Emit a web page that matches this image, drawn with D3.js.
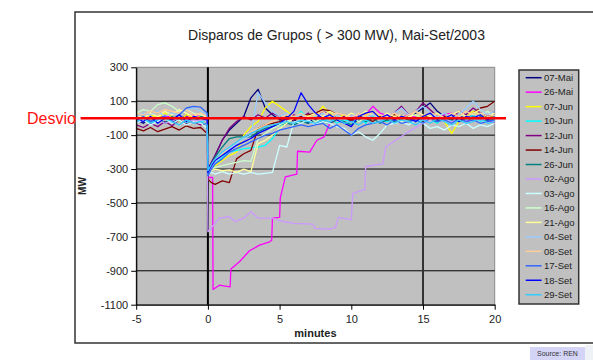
<!DOCTYPE html>
<html>
<head>
<meta charset="utf-8">
<script src="https://cdn.jsdelivr.net/npm/d3@7"></script>
<style>
  body { margin: 0; background: #fff; }
  svg text { font-family: "Liberation Sans", Arial, sans-serif; }
</style>
</head>
<body>
<svg id="chart" width="593" height="360"></svg>
<script>
// minutes grid shared by most series (-5 .. 20)
const minutes = [-5, -4.5, -4, -3.5, -3, -2.5, -2, -1.5, -1, -0.5, -0.05,
  0, 0.25, 0.5, 1, 1.5, 2, 2.5, 3, 3.5, 4, 4.5, 5, 5.5, 6, 6.5, 7, 7.5, 8, 8.5, 9, 9.5,
  10, 10.5, 11, 11.5, 12, 12.5, 13, 13.5, 14, 14.5, 15, 15.5, 16, 16.5, 17, 17.5, 18, 18.5, 19, 19.5, 20]

const mai07 = [-10, -30, 5, -20, 10, -25, -5, 15, -15, 0, -10,
  -300, -260, -220, -130, -70, -30, 10, 120, 170, 60, 20, -10, 10, -20, 20, -30, 10, -10, 20, -10, 10,
  -20, 15, -5, 20, -10, 10, -15, 20, 0, 30, 60, 90, 40, 10, -10, 20, 0, 15, -10, 20, 5]
const jun07 = [10, -10, 20, 0, 30, 10, -20, 20, 0, 10, -10,
  -320, -300, -280, -250, -220, -200, -100, -50, -20, 60, 100, 70, 40, 10, -10, 20, 10, 70, 30, 0, 20,
  -10, 10, 20, 40, 10, -10, 20, 0, 10, 20, 0, 30, 10, -20, -90, -20, 20, 40, 20, 0, 10]
const jun10 = [-20, 0, -30, -10, -25, 0, -15, -30, -5, -20, -10,
  -330, -300, -270, -230, -200, -190, -180, -175, -170, -160, -120, -60, -20, 0, 40, -10, 10, -20, 0, -30, -10,
  -20, 0, -30, 10, -10, -20, 0, -10, 10, -20, 0, -10, -30, 10, -20, 0, -10, 20, -20, 0, -10]
const jun12 = [-40, -55, -30, -50, -20, -45, -10, -35, -20, -40, -30,
  -330, -270, -220, -130, -60, -20, 10, -10, 20, 0, 30, 10, -10, 20, 0, 30, -10, 40, 20, 0, 10,
  -20, 10, 0, 20, -10, 10, 30, 70, 20, 40, 90, 50, 10, 30, 0, 40, 20, 60, 30, 10, 40]
const jun14 = [-60, -75, -55, -80, -65, -50, -70, -45, -60, -55, -90,
  -360, -380, -390, -370, -380, -240, -210, -190, -60, -40, -30, -20, 0, -10, 10, 20, 30, 50, 45, 20, 0,
  -10, 10, 0, -20, 10, -10, 20, 0, 10, -10, 20, 0, -20, 10, 0, 20, 10, 30, 60, 70, 100]
const jun26 = [-10, 10, -20, 0, -30, 10, -10, 0, -20, 10, -5,
  -330, -280, -230, -170, -120, -110, -110, -110, -80, -60, -50, -40, -30, -40, -20, -30, -10, -20, -30, -10, -20,
  -40, -10, -20, 0, -30, -10, -20, 0, -10, -20, 10, -10, -20, 0, -10, -20, 0, -10, 10, -20, 0]
const ago03 = [-30, -10, -40, -20, 0, -30, -10, -40, -20, -30, -60,
  -330, -320, -330, -315, -330, -320, -330, -320, -330, -325, -320, -160, -170, -20, -30, -10, -40, -20, -30, -50, -60,
  -100, -80, -110, -130, -90, -40, -30, -20, -40, -10, -30, -60, -50, -70, -40, -50, -30, -60, -40, -50, -30]
const ago16 = [30, 50, 40, 80, 90, 70, 40, 50, 30, 20, 10,
  -320, -300, -290, -280, -270, -260, -250, -255, -120, -90, -60, -40, -20, 0, -10, 10, -20, 0, 20, -10, 0,
  10, -20, 0, 20, -10, 10, 0, -20, 10, 20, 0, -10, 10, 30, 0, 20, 10, -10, 20, 40, 10]
const ago21 = [20, 0, 30, 10, 40, 20, 50, 30, 10, 30, 0,
  -320, -310, -300, -310, -305, -320, -300, -315, -150, -130, -100, -60, -30, 0, 20, 10, 30, 10, 40, 20, 0,
  30, 10, 40, 20, 0, 30, 10, 20, 0, 40, 20, 10, 30, 0, 20, 40, 10, 30, 50, 20, 30]
const set04 = [10, 30, 20, 40, 10, 30, 20, 50, 60, 40, 20,
  -330, -290, -260, -220, -180, -150, -120, -100, 150, 90, 40, 10, 30, 0, 20, -10, 10, 30, 0, 20, -10,
  10, 30, 0, 20, -10, 10, 30, 60, 20, 40, 70, 30, 10, 30, 0, 20, 60, 100, 50, 20, 40]
const set08 = [30, 20, 40, 30, 50, 40, 30, 50, 20, 30, 10,
  -320, -280, -250, -210, -170, -140, -110, -80, -60, -40, -20, 0, 20, 10, 30, 0, 20, 40, 10, 30, 20,
  0, 30, 10, 40, 20, 10, 30, 0, 20, 40, 10, 30, 20, 0, 30, 10, 40, 20, 30, 10, 20]
const set17 = [-10, 10, -20, 0, 10, -10, 20, 60, 70, 65, 30,
  -340, -300, -270, -240, -200, -180, -160, -140, -120, -100, -90, -70, -60, -50, -40, -50, -40, -30, -60, -40, -70,
  -100, -60, -40, -30, -20, -40, -10, -30, -20, -10, -30, 0, -20, -10, -30, 0, -20, -10, -30, -20, -10]
const set18 = [0, -20, 10, -30, 0, -10, 20, -20, 10, 0, -10,
  -320, -280, -250, -220, -190, -160, -140, -120, -90, -70, -50, -30, 0, 40, 150, 80, 30, 0, 20, -10, -30,
  -50, 10, 30, 40, 0, 20, -10, 10, 0, -20, 10, 30, -10, 0, 20, -20, 10, 0, 20, -10, 10]
const set29 = [-20, 0, -30, -10, 0, -20, -40, -10, -30, -20, -40,
  -310, -270, -240, -200, -170, -140, -110, -90, -70, -50, -40, -30, -20, -30, -10, -20, -30, -10, -20, 0, -30,
  -20, -40, -10, -30, -20, 0, -30, -10, -20, -40, -10, -30, 0, -20, -40, -10, -30, -20, 0, -30, -20]

// the two slow recoveries have their own time stamps (step jumps)
const mai26Min = [-5, -4, -3, -2, -1, -0.05, 0, 0.33, 0.36, 0.8, 1.2, 1.55, 1.6, 2.2, 2.9, 3.6, 4.3, 4.45, 4.5,
  5.0, 5.05, 5.4, 6.2, 6.25, 7.1, 7.6, 8.1, 8.5, 9, 10, 11, 11.5, 12, 13, 14, 15, 16, 17, 18, 19, 20]
const mai26 = [10, -20, 15, -10, 20, 0, -350, -350, -1010, -985, -990, -995, -890, -847, -782, -749, -729, -720, -590,
  -585, -470, -346, -330, -195, -200, -130, -110, -30, -10, 10, 20, 70, 30, 0, 20, -10, 10, 30, -20, 10, -30]
const ago02Min = [-5, -4, -3, -2, -1, -0.05, 0, 0.1, 0.8, 1.5, 1.9, 2.5, 3.0, 3.5, 4.5, 5, 6, 7.3, 7.5, 8.5,
  8.9, 9.1, 10.0, 10.1, 10.8, 10.95, 11.0, 12.2, 12.4, 13.1, 13.8, 14.6, 15, 16, 17, 18, 19, 20]
const ago02 = [-20, 10, -30, 0, -15, -10, -670, -660, -590, -580, -610, -590, -552, -590, -590, -605, -620, -625, -650, -655,
  -645, -585, -600, -445, -425, -420, -285, -270, -170, -130, -90, -50, -30, 0, -20, 10, -10, 0]

const names = ['07-Mai', '26-Mai', '07-Jun', '10-Jun', '12-Jun', '14-Jun', '26-Jun', '02-Ago',
  '03-Ago', '16-Ago', '21-Ago', '04-Set', '08-Set', '17-Set', '18-Set', '29-Set']
const colors = ['#000080', '#ff00ff', '#ffff00', '#00ffff', '#800080', '#800000', '#008080', '#cc99ff',
  '#ccffff', '#ccffcc', '#ffff99', '#99ccff', '#ffcc99', '#3366ff', '#0000ff', '#33ccff']
const times = [minutes, mai26Min, minutes, minutes, minutes, minutes, minutes, ago02Min,
  minutes, minutes, minutes, minutes, minutes, minutes, minutes, minutes]
const values = [mai07, mai26, jun07, jun10, jun12, jun14, jun26, ago02,
  ago03, ago16, ago21, set04, set08, set17, set18, set29]

const yTicks = [300, 100, -100, -300, -500, -700, -900, -1100]
const xTicks = [-5, 0, 5, 10, 15, 20]
const markerMinutes = [0, 15]
const title = 'Disparos de Grupos ( > 300 MW), Mai-Set/2003'

const svg = d3.select('#chart')

const x = d3.scaleLinear().domain([-5, 20]).range([136.2, 494.7])
const y = d3.scaleLinear().domain([-1100, 300]).range([304.7, 67.3])

// outer chart frame (runs off the right side)
svg.append('rect')
  .attr('x', 75).attr('y', 12).attr('width', 560).attr('height', 331)
  .attr('fill', 'none').attr('stroke', '#333').attr('stroke-width', 1.5)

svg.append('text')
  .attr('x', 336.5).attr('y', 40)
  .attr('text-anchor', 'middle')
  .attr('font-size', 14).attr('fill', '#222')
  .text(title)

// plot area
svg.append('rect')
  .attr('x', x(-5)).attr('y', y(300))
  .attr('width', x(20) - x(-5)).attr('height', y(-1100) - y(300))
  .attr('fill', '#c0c0c0').attr('stroke', '#8a8a8a').attr('stroke-width', 1)

svg.append('g').selectAll('line')
  .data(yTicks.filter(d => d < 300 && d > -1100)).enter().append('line')
  .attr('x1', x(-5)).attr('x2', x(20))
  .attr('y1', d => y(d)).attr('y2', d => y(d))
  .attr('stroke', '#000').attr('stroke-width', 1)

svg.append('g').selectAll('line')
  .data(markerMinutes).enter().append('line')
  .attr('x1', d => x(d)).attr('x2', d => x(d))
  .attr('y1', y(300)).attr('y2', y(-1100))
  .attr('stroke', (d, i) => i == 0 ? '#000' : '#333').attr('stroke-width', 2)

svg.append('clipPath').attr('id', 'plotClip')
  .append('rect')
  .attr('x', x(-5)).attr('y', y(300))
  .attr('width', x(20) - x(-5)).attr('height', y(-1100) - y(300))

const line = d3.line().x(d => x(d[0])).y(d => y(d[1]))

svg.append('g').attr('clip-path', 'url(#plotClip)')
  .selectAll('path')
  .data(values).enter().append('path')
  .attr('d', (v, i) => line(v.map((val, j) => [times[i][j], val])))
  .attr('fill', 'none')
  .attr('stroke', (v, i) => colors[i])
  .attr('stroke-width', 1.3)
  .attr('stroke-linejoin', 'round')

// axes (plain hyphen minus, no thousands separator)
const yAxis = svg.append('g')
  .attr('transform', `translate(${x(-5)},0)`)
  .call(d3.axisLeft(y).tickValues(yTicks).tickFormat(d => String(d))
    .tickSize(5).tickSizeOuter(0).tickPadding(3))
const xAxis = svg.append('g')
  .attr('transform', `translate(0,${y(-1100)})`)
  .call(d3.axisBottom(x).tickValues(xTicks).tickFormat(d => String(d))
    .tickSize(5).tickSizeOuter(0).tickPadding(6))

for (const ax of [yAxis, xAxis]) {
  ax.select('.domain').attr('stroke', '#000').attr('stroke-width', 1.2)
  ax.selectAll('.tick line').attr('stroke', '#000')
  ax.selectAll('.tick text')
    .attr('font-family', '"Liberation Sans", Arial, sans-serif')
    .attr('font-size', 11).attr('fill', '#222')
}

svg.append('text')
  .attr('transform', `translate(86,${y(-400)}) rotate(-90)`)
  .attr('text-anchor', 'middle')
  .attr('font-size', 10).attr('font-weight', 'bold').attr('fill', '#222')
  .text('MW')

svg.append('text')
  .attr('x', x(7.5)).attr('y', 337)
  .attr('text-anchor', 'middle')
  .attr('font-size', 11).attr('font-weight', 'bold').attr('fill', '#222')
  .text('minutes')

// legend
const legend = svg.append('g')
legend.append('rect')
  .attr('x', 519).attr('y', 70).attr('width', 59.7).attr('height', 234)
  .attr('fill', '#c0c0c0').attr('stroke', '#333').attr('stroke-width', 1.5)
const items = legend.selectAll('g.item')
  .data(names).enter().append('g')
  .attr('transform', (d, i) => `translate(0,${77.7 + i * 14.47})`)
items.append('line')
  .attr('x1', 525.7).attr('x2', 541.6)
  .attr('stroke', (d, i) => colors[i]).attr('stroke-width', 1.5)
items.append('text')
  .attr('x', 544).attr('dy', '0.35em')
  .attr('font-size', 9.5).attr('fill', '#222')
  .text(d => d)

// "Desvio" marker drawn over the chart
svg.append('line')
  .attr('x1', 80.6).attr('x2', 506)
  .attr('y1', y(0)).attr('y2', y(0))
  .attr('stroke', '#ff0000').attr('stroke-width', 2.5)
svg.append('text')
  .attr('x', 27).attr('y', 123.5)
  .attr('font-size', 16).attr('fill', '#ff1010')
  .text('Desvio')

// source tag
svg.append('rect')
  .attr('x', 530).attr('y', 347).attr('width', 55).attr('height', 13)
  .attr('fill', '#d4d4f6')
svg.append('rect')
  .attr('x', 585).attr('y', 345).attr('width', 8).attr('height', 15)
  .attr('fill', '#eef1f5')
svg.append('text')
  .attr('x', 557.5).attr('y', 356)
  .attr('text-anchor', 'middle')
  .attr('font-size', 7).attr('fill', '#333')
  .text('Source: REN')
</script>
</body>
</html>
